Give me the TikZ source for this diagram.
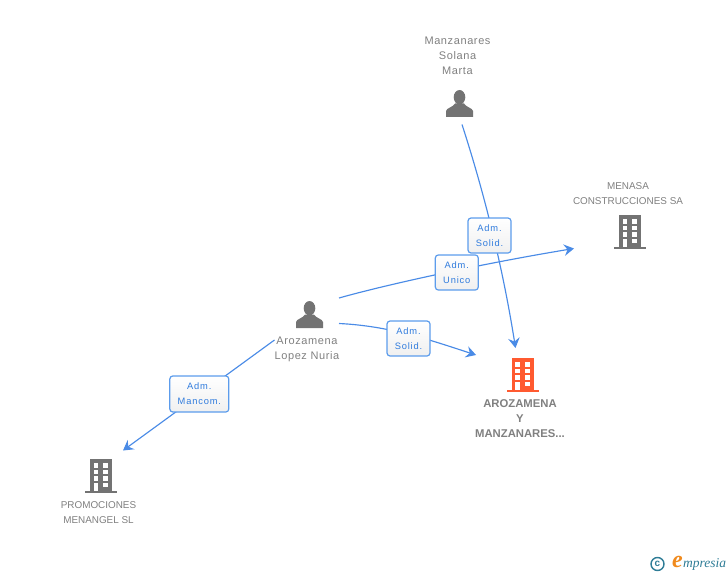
\documentclass[tikz,border=0pt]{standalone}
\usepackage{fontspec}
\setmainfont{Liberation Sans}
\newfontfamily\spacedfont[LetterSpace=9]{Liberation Sans}
\newfontfamily\lowerfont[LetterSpace=5.5]{Liberation Sans}
\newfontfamily\logofont{Liberation Serif}
\usetikzlibrary{arrows.meta}
\definecolor{linkblue}{HTML}{4A8BE6}
\definecolor{boxblue}{HTML}{5C9CEC}
\definecolor{labelblue}{HTML}{2F7BDD}
\definecolor{iconGray}{HTML}{737373}
\definecolor{nameGray}{HTML}{808080}
\definecolor{orangeB}{HTML}{FF5A30}
\definecolor{logoTeal}{HTML}{2E7C96}
\definecolor{logoOrange}{HTML}{F08A1D}
\tikzset{
  x=1pt,y=-1pt,
  link/.style={draw=linkblue,line width=1.15pt,-{Stealth[length=10pt,width=11.5pt,inset=3.5pt]}},
  rolebox/.style={draw=boxblue,line width=1.2pt,rounded corners=3pt,top color=white,bottom color=white!94!black,
    minimum width=43pt,minimum height=35pt,inner sep=0pt,align=center,text=labelblue,
    font=\spacedfont\fontsize{9.3}{15}\selectfont},
  widebox/.style={minimum width=59pt,minimum height=36pt},
  nametext/.style={text=nameGray,align=center,inner sep=0pt,font=\lowerfont\fontsize{11}{15}\selectfont},
  captext/.style={text=nameGray,align=center,inner sep=0pt,font=\fontsize{9.9}{15}\selectfont},
  boldtext/.style={text=nameGray,align=center,inner sep=0pt,font=\bfseries\fontsize{11.3}{15}\selectfont},
  pics/person/.style={code={
    \fill[iconGray] (0,-6.3) ellipse[x radius=5.8,y radius=7.2];
    \fill[iconGray] (-13.5,13.5) -- (-13.5,7.5) .. controls (-13,4.5) and (-7,4) .. (-4.5,0) -- (4.5,0)
      .. controls (7,4) and (13,4.5) .. (13.5,7.5) -- (13.5,13.5) -- cycle;
  }},
  pics/building/.style={code={
    \fill[#1] (-11,-17) rectangle (11,15.2);
    \fill[#1] (-16,15) rectangle (16,17);
    \foreach \ya/\yb in {-12.7/-8.3,-6.3/-2,0.3/4.7}{
      \fill[white] (-7.4,\ya) rectangle (-2.8,\yb);
      \fill[white] (2.4,\ya) rectangle (7.2,\yb);
    }
    \fill[white] (2.4,6.7) rectangle (7.2,11);
    \fill[white] (-7.4,6.7) rectangle (-2.8,15);
  }},
}
\begin{document}
\begin{tikzpicture}
\useasboundingbox (0,0) rectangle (728,575);
% icons
\pic at (459.5,103.5) {person};
\pic at (309.5,314.5) {person};
\pic at (630,232) {building=iconGray};
\pic at (522.5,375) {building=orangeB};
\pic at (101,476) {building=iconGray};
% anchors for connector ends
\coordinate (manzStart) at (462,124.5);
\coordinate (aroEndM) at (515.5,348);
\coordinate (aroStartU) at (339,298);
\coordinate (menasaEnd) at (574,248.5);
\coordinate (aroStartS) at (339,323.5);
\coordinate (aroEndS) at (476,355);
\coordinate (aroStartP) at (274.5,340);
\coordinate (promoEnd) at (123,450.5);
% connectors
\draw[link] (manzStart) .. controls (485.6,197.3) and (503.5,271.9) .. (aroEndM);
\draw[link] (aroStartU) .. controls (385,285) and (480,264) .. (menasaEnd);
\draw[link] (aroStartS) .. controls (390,326) and (430,340) .. (aroEndS);
\draw[link] (aroStartP) -- (promoEnd);
% role boxes
\node[rolebox] (boxSolidM) at (489.5,235.5) {Adm.\\Solid.};
\node[rolebox] (boxUnico) at (456.8,272.5) {Adm.\\Unico};
\node[rolebox] (boxSolidA) at (408.5,338.5) {Adm.\\Solid.};
\node[rolebox,widebox] (boxManc) at (199.3,394) {Adm.\\Mancom.};
% names
\node[nametext] (manzName) at (457.5,56) {Manzanares\\Solana\\Marta};
\node[captext] (menasaName) at (628,193.5) {MENASA\\CONSTRUCCIONES SA};
\node[nametext] (aroName) at (307,349) {Arozamena\\Lopez Nuria};
\node[boldtext] (mainName) at (520,418.5) {AROZAMENA\\Y\\MANZANARES...};
\node[captext] (promoName) at (98.5,512.5) {PROMOCIONES\\MENANGEL SL};
% logo
\node[draw=logoTeal,line width=1.4pt,circle,minimum size=13pt,inner sep=0pt,text=logoTeal,font=\bfseries\fontsize{10}{10}\selectfont] (logoC) at (657.5,564) {c};
\node[text=logoOrange,inner sep=0pt,font=\logofont\itshape\bfseries\fontsize{24}{24}\selectfont] (logoE) at (677.5,562) {e};
\node[text=logoTeal,inner sep=0pt,anchor=west,font=\logofont\itshape\fontsize{13.5}{13.5}\selectfont] (logoT) at (683,564.5) {mpresia};
\end{tikzpicture}
\end{document}
